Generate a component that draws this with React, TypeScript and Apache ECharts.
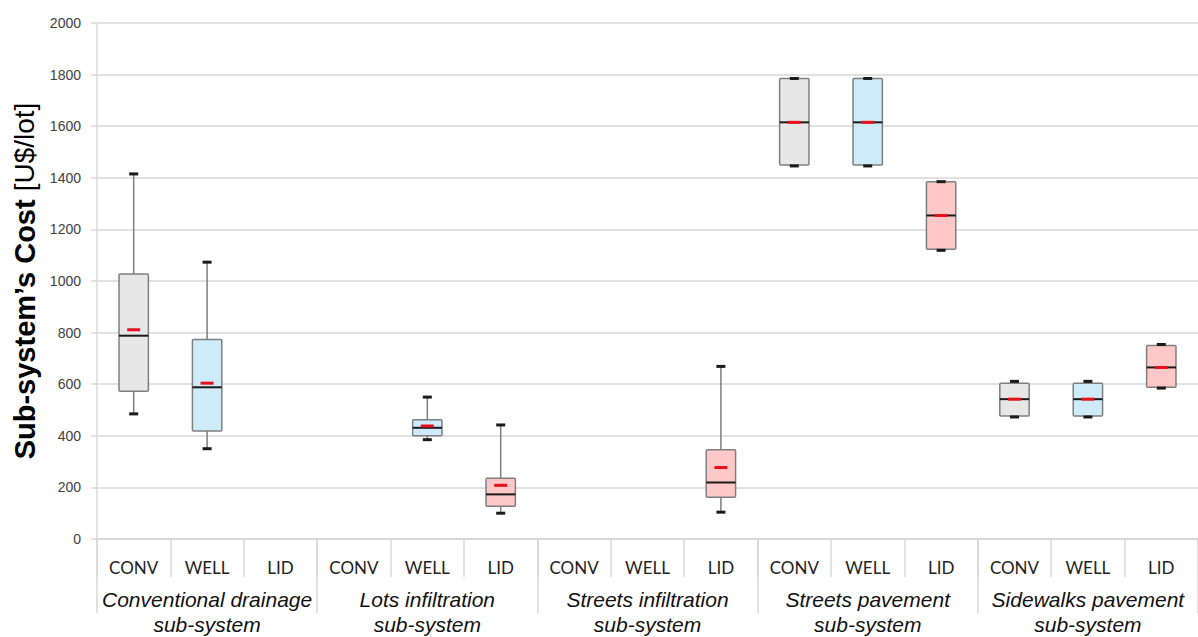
import React, { useEffect, useRef } from "react";
import * as echarts from "echarts";

const categories = ["CONV", "WELL", "LID", "CONV", "WELL", "LID", "CONV", "WELL", "LID", "CONV", "WELL", "LID", "CONV", "WELL", "LID"];
const groups = [
  "Conventional drainage\nsub-system",
  "Lots infiltration\nsub-system",
  "Streets infiltration\nsub-system",
  "Streets pavement\nsub-system",
  "Sidewalks pavement\nsub-system",
];
const yTicks = { min: 0, max: 2000, interval: 200 };

const mins: (number | null)[] = [485, 350, null, null, 385, 100, null, null, 104, 1446, 1446, 1119, 473, 473, 585];
const q1s: (number | null)[] = [573, 419, null, null, 400, 127, null, null, 162, 1450, 1450, 1123, 477, 477, 588];
const medians: (number | null)[] = [788, 588, null, null, 431, 173, null, null, 219, 1615, 1615, 1254, 542, 542, 665];
const q3s: (number | null)[] = [1027, 773, null, null, 462, 235, null, null, 346, 1785, 1785, 1385, 604, 604, 750];
const maxs: (number | null)[] = [1415, 1073, null, null, 550, 442, null, null, 669, 1785, 1785, 1385, 611, 611, 754];
const means: (number | null)[] = [811, 604, null, null, 438, 208, null, null, 277, 1615, 1615, 1254, 542, 542, 665];

const fills = ["#e7e7e7", "#cdebf8", "#ffc8c8"];

export default function App() {
  const ref = useRef<HTMLDivElement>(null);
  useEffect(() => {
    if (!ref.current) return;
    const chart = echarts.init(ref.current, null, { renderer: "svg" });
    const data: any[] = [];
    for (let i = 0; i < categories.length; i++) {
      if (mins[i] == null) continue;
      data.push([i, mins[i], q1s[i], medians[i], q3s[i], maxs[i], means[i]]);
    }
    const gridColor = "#d9d9d9";
    const option: any = {
      animation: false,
      grid: { left: 97, top: 23, bottom: 94, width: 1114 },
      xAxis: [
        {
          type: "category",
          data: categories,
          position: "bottom",
          axisLine: { show: true, lineStyle: { color: gridColor, width: 1.5 } },
          axisTick: { show: true, interval: 0, length: 38, lineStyle: { color: gridColor, width: 1.5 } },
          axisLabel: { interval: 0, margin: 20, fontSize: 17, fontFamily: "Lato", color: "#222" },
          splitLine: { show: false },
        },
        {
          type: "category",
          data: groups,
          position: "bottom",
          axisLine: { show: true, lineStyle: { color: gridColor, width: 1.5 } },
          axisTick: { show: true, interval: 0, length: 74, lineStyle: { color: gridColor, width: 1.5 } },
          axisLabel: {
            interval: 0,
            margin: 48,
            fontSize: 21,
            lineHeight: 25,
            fontStyle: "italic",
            fontFamily: "Liberation Sans",
            color: "#111",
          },
          splitLine: { show: false },
        },
      ],
      yAxis: {
        type: "value",
        min: yTicks.min,
        max: yTicks.max,
        interval: yTicks.interval,
        axisLine: { show: true, lineStyle: { color: gridColor, width: 1.5 } },
        axisTick: { show: true, length: 6, lineStyle: { color: gridColor, width: 1.5 } },
        axisLabel: {
          margin: 16,
          fontSize: 14,
          fontFamily: "Liberation Sans",
          color: "#404040",
          formatter: (v: number) => String(v),
        },
        splitLine: { show: true, lineStyle: { color: gridColor, width: 1.5 } },
        name: "{b|Sub-system’s Cost}{r|[U$/lot]}",
        nameLocation: "middle",
        nameGap: 58,
        nameMoveOverlap: false,
        nameRotate: 90,
        nameTextStyle: {
          rich: {
            b: { fontSize: 29, fontWeight: "bold", fontFamily: "Liberation Sans", color: "#000", padding: [0, 8, 0, 0] },
            r: { fontSize: 28, fontWeight: "normal", fontFamily: "Liberation Sans", color: "#000" },
          },
        },
      },
      series: [
        {
          type: "custom",
          xAxisIndex: 0,
          data,
          encode: { x: 0, y: [1, 2, 3, 4, 5, 6] },
          renderItem: (params: any, api: any) => {
            const x = api.value(0);
            const bw = api.size([1, 0])[0] * 0.4;
            const pMin = api.coord([x, api.value(1)]);
            const pQ1 = api.coord([x, api.value(2)]);
            const pMed = api.coord([x, api.value(3)]);
            const pQ3 = api.coord([x, api.value(4)]);
            const pMax = api.coord([x, api.value(5)]);
            const pMean = api.coord([x, api.value(6)]);
            const cx = pMed[0];
            const fill = fills[x % 3];
            const capW = 9;
            const meanW = 13;
            const whisker = { stroke: "#7f7f7f", lineWidth: 1.5 };
            return {
              type: "group",
              children: [
                { type: "line", shape: { x1: cx, y1: pMax[1], x2: cx, y2: pQ3[1] }, style: whisker },
                { type: "line", shape: { x1: cx, y1: pQ1[1], x2: cx, y2: pMin[1] }, style: whisker },
                {
                  type: "rect",
                  shape: { x: cx - bw / 2, y: pQ3[1], width: bw, height: pQ1[1] - pQ3[1], r: 1 },
                  style: { fill, stroke: "#7f7f7f", lineWidth: 1.5 },
                },
                {
                  type: "line",
                  shape: { x1: cx - bw / 2, y1: pMed[1], x2: cx + bw / 2, y2: pMed[1] },
                  style: { stroke: "#1a1a1a", lineWidth: 2 },
                },
                {
                  type: "line",
                  shape: { x1: cx - meanW / 2, y1: pMean[1], x2: cx + meanW / 2, y2: pMean[1] },
                  style: { stroke: "#e8101a", lineWidth: 3 },
                },
                {
                  type: "line",
                  shape: { x1: cx - capW / 2, y1: pMax[1], x2: cx + capW / 2, y2: pMax[1] },
                  style: { stroke: "#1a1a1a", lineWidth: 3 },
                },
                {
                  type: "line",
                  shape: { x1: cx - capW / 2, y1: pMin[1], x2: cx + capW / 2, y2: pMin[1] },
                  style: { stroke: "#1a1a1a", lineWidth: 3 },
                },
              ],
            };
          },
        },
      ],
    };
    chart.setOption(option);
    return () => chart.dispose();
  }, []);
  return (
    <div
      ref={ref}
      style={{ position: "fixed", left: 0, top: 0, width: 1198, height: 637, background: "#fff" }}
    />
  );
}
